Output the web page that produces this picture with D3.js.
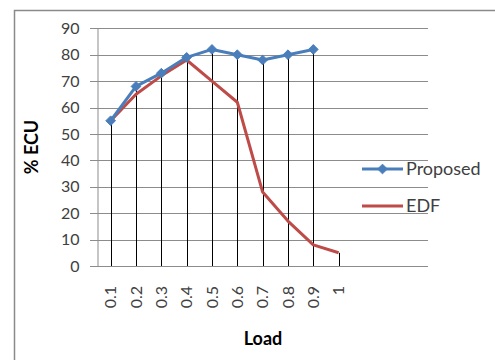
<!DOCTYPE html>
<html>
<head>
<meta charset="utf-8">
<script src="https://cdn.jsdelivr.net/npm/d3@7"></script>
<style>
  body { margin: 0; background: #fff; }
  text { font-family: Lato, "Liberation Sans", sans-serif; fill: #404040; }
</style>
</head>
<body>
<div></div>
<script>
// datos del grafico
var loads = ['0.1','0.2','0.3','0.4','0.5','0.6','0.7','0.8','0.9','1']
var proposed = [55, 68, 73, 79, 82, 80, 78, 80, 82, null]
var edf = [55, 65, 72, 78, 70, 62, 28, 17, 8, 5]
var yTicks = [0, 10, 20, 30, 40, 50, 60, 70, 80, 90]

var w = 495
var h = 360
var blue = '#4a7ebb'
var red = '#be4b48'

var svg = d3.select('div')
    .append('svg')
    .attr('width', w)
    .attr('height', h);

// marco exterior
svg.append('rect')
    .attr('x', 14.5)
    .attr('y', 10.5)
    .attr('width', 500)
    .attr('height', 400)
    .attr('fill', 'none')
    .attr('stroke', '#8a8a8a')
    .attr('stroke-width', 1.5);

// escalas
var x = d3.scaleBand().domain(loads).range([98, 351.3])
var y = d3.scaleLinear().domain([0, 90]).range([266, 28.3])
var cx = (d) => x(d) + x.bandwidth() / 2

// lineas de rejilla
svg.append('g').selectAll('line')
    .data(yTicks)
    .enter()
    .append('line')
    .attr('x1', 90)
    .attr('x2', 428)
    .attr('y1', (d) => Math.round(y(d)) + 0.5)
    .attr('y2', (d) => Math.round(y(d)) + 0.5)
    .attr('stroke', '#8c8c8c')
    .attr('stroke-width', 1);

// eje y
var yAxis = svg.append('g')
    .attr('transform', 'translate(97.5,0)')
    .call(d3.axisLeft(y).tickValues(yTicks).tickSize(0).tickPadding(18))
yAxis.select('.domain').attr('stroke', '#8c8c8c')
yAxis.selectAll('text')
    .style('font-size', '16px')
    .style('font-family', 'Lato, sans-serif')
    .attr('fill', '#404040');

// eje x (solo etiquetas)
var xAxis = svg.append('g')
    .attr('transform', 'translate(0,266)')
    .call(d3.axisBottom(x).tickSize(0))
xAxis.select('.domain').remove()
xAxis.selectAll('text')
    .attr('transform', 'rotate(-90)')
    .attr('text-anchor', 'end')
    .attr('x', -20)
    .attr('y', 0)
    .attr('dy', '0.35em')
    .style('font-size', '16px')
    .style('font-family', 'Lato, sans-serif')
    .attr('fill', '#404040');

// lineas de caida
svg.append('g').selectAll('line')
    .data(loads)
    .enter()
    .append('line')
    .attr('x1', (d) => Math.round(cx(d)) + 0.5)
    .attr('x2', (d) => Math.round(cx(d)) + 0.5)
    .attr('y1', y(0))
    .attr('y2', (d, i) => y(Math.max(proposed[i] || 0, edf[i] || 0)))
    .attr('stroke', '#000')
    .attr('stroke-width', 1);

// series
var line = d3.line()
    .defined((d) => d != null)
    .x((d, i) => cx(loads[i]))
    .y((d) => y(d))

svg.append('path')
    .datum(edf)
    .attr('d', line)
    .attr('fill', 'none')
    .attr('stroke', red)
    .attr('stroke-width', 3)
    .attr('stroke-linejoin', 'round');

svg.append('path')
    .datum(proposed)
    .attr('d', line)
    .attr('fill', 'none')
    .attr('stroke', blue)
    .attr('stroke-width', 3)
    .attr('stroke-linejoin', 'round');

var diamond = d3.symbol().type(d3.symbolDiamond2).size(60)

svg.append('g').selectAll('path')
    .data(proposed.filter((d) => d != null))
    .enter()
    .append('path')
    .attr('d', diamond)
    .attr('transform', (d, i) => `translate(${cx(loads[i])},${y(d)})`)
    .attr('fill', blue)
    .attr('stroke', blue);

// leyenda
var legend = svg.append('g')
var items = [{name: 'Proposed', color: blue, marker: true, yy: 169}, {name: 'EDF', color: red, marker: false, yy: 206}]
items.forEach(function(it) {
    legend.append('line')
        .attr('x1', 362).attr('x2', 403)
        .attr('y1', it.yy).attr('y2', it.yy)
        .attr('stroke', it.color)
        .attr('stroke-width', 3);
    if (it.marker) {
        legend.append('path')
            .attr('d', diamond)
            .attr('transform', `translate(382.5,${it.yy})`)
            .attr('fill', it.color)
            .attr('stroke', it.color);
    }
    legend.append('text')
        .attr('x', 406)
        .attr('y', it.yy)
        .attr('dy', '0.35em')
        .style('font-size', '18px')
        .text(it.name);
});

// titulos de ejes
svg.append('text')
    .attr('x', 263)
    .attr('y', 345)
    .attr('text-anchor', 'middle')
    .style('font-size', '18px')
    .style('font-weight', 'bold')
    .style('fill', '#000')
    .text('Load');

svg.append('text')
    .attr('transform', 'translate(38,147) rotate(-90)')
    .attr('text-anchor', 'middle')
    .style('font-size', '18px')
    .style('font-weight', 'bold')
    .style('fill', '#000')
    .text('% ECU');
</script>
</body>
</html>
